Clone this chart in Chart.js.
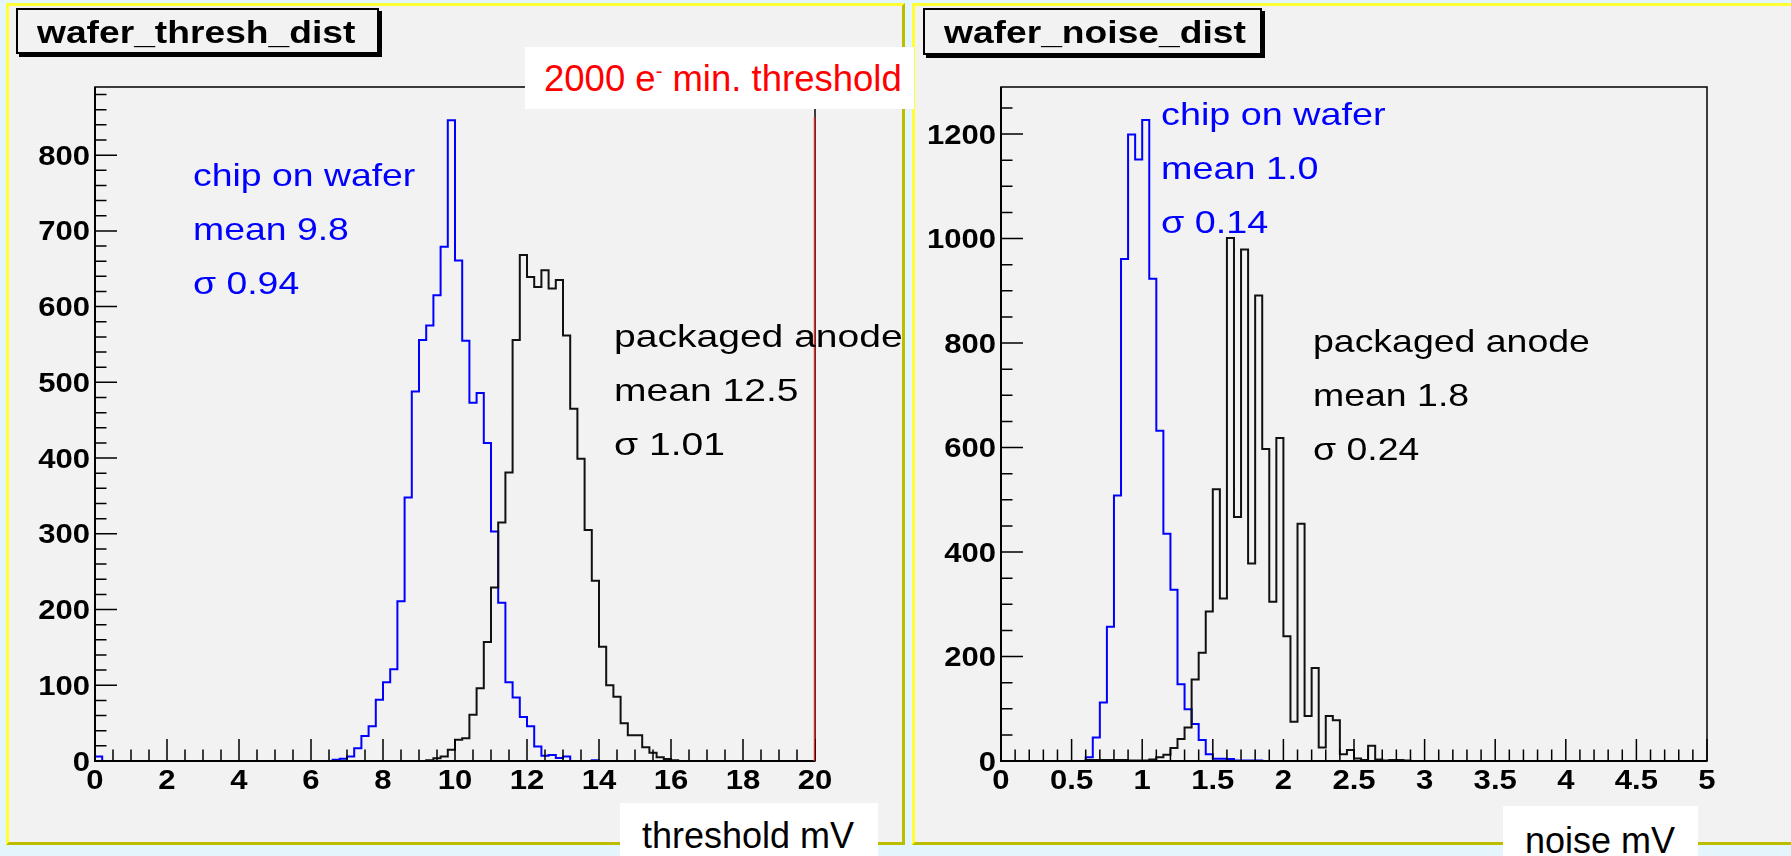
<!DOCTYPE html>
<html lang="en">
<head>
    <meta charset="UTF-8">
    <title>wafer_thresh_dist / wafer_noise_dist</title>
    <script src="https://cdn.jsdelivr.net/npm/chart.js"></script>
    <style>
        body { margin: 0; width: 1791px; height: 856px; overflow: hidden; position: relative;
               background: #e5f5fc; font-family: "Liberation Sans", Arial, sans-serif; }
        .pad { position: absolute; box-sizing: border-box; background: #f2f2f2;
               border: 3px solid #ffff33; border-right-color: #bdbd00; border-bottom-color: #bdbd00; }
        .plot { position: absolute; }
        .pave { position: absolute; box-sizing: border-box; border: 2px solid #000;
                background: #f2f2f2; box-shadow: 3px 3px 0 #000; }
        .ttl { position: absolute; font: bold 31px/1 "Liberation Sans", Arial, sans-serif;
               transform: scaleX(1.2); transform-origin: 0 0; white-space: nowrap; }
        .note { position: absolute; font-size: 32px; line-height: 54px; white-space: nowrap;
                transform: scaleX(1.18); transform-origin: 0 0; }
        .box { position: absolute; background: #fff; }
        .lbl { position: absolute; font-size: 36px; line-height: 1; white-space: nowrap; }
        .sup { font-size: 20px; position: relative; top: -13px; }
    </style>
</head>
<body>
    <div class="pad" style="left:6px; top:3px; width:899px; height:842px;"></div>
    <div class="pad" style="left:912px; top:3px; width:890px; height:842px;"></div>

    <div class="plot" style="left:0; top:0; width:903px; height:845px;"><canvas id="thresh"></canvas></div>
    <div class="plot" style="left:903px; top:0; width:888px; height:845px;"><canvas id="noise"></canvas></div>

    <!-- histogram titles -->
    <div class="pave" style="left:16px; top:8px; width:363px; height:46px;"></div>
    <div class="ttl" style="left:37px; top:17px;">wafer_thresh_dist</div>
    <div class="pave" style="left:923px; top:8px; width:339px; height:47px;"></div>
    <div class="ttl" style="left:944px; top:17px;">wafer_noise_dist</div>

    <!-- annotations -->
    <div class="note" style="left:193px; top:148px; color:#0000ff; transform:scaleX(1.168);">chip on wafer<br>mean 9.8<br>σ 0.94</div>
    <div class="note" style="left:614px; top:309px; color:#000; transform:scaleX(1.22);">packaged anode<br>mean 12.5<br>σ 1.01</div>
    <div class="note" style="left:1161px; top:87px; color:#0000ff;">chip on wafer<br>mean 1.0<br>σ 0.14</div>
    <div class="note" style="left:1313px; top:314px; color:#000; transform:scaleX(1.17);">packaged anode<br>mean 1.8<br>σ 0.24</div>

    <div class="box" style="left:525px; top:47px; width:389px; height:62px;"></div>
    <div class="lbl" style="left:544px; top:61px; color:#ff0000; font-size:36.5px;">2000 e<span class="sup">-</span> min. threshold</div>

    <div class="box" style="left:620px; top:803px; width:258px; height:53px;"></div>
    <div class="lbl" style="left:642px; top:818px;">threshold mV</div>
    <div class="box" style="left:1503px; top:806px; width:195px; height:50px;"></div>
    <div class="lbl" style="left:1525px; top:823px;">noise mV</div>

    <script>
        // bin widths (mV), bins start at 0
        const threshBinWidth = 0.2;
        const noiseBinWidth = 0.05;

        // labelled tick values
        const threshXTicks = [0, 2, 4, 6, 8, 10, 12, 14, 16, 18, 20];
        const threshYTicks = [0, 100, 200, 300, 400, 500, 600, 700, 800];
        const noiseXTicks = [0, 0.5, 1, 1.5, 2, 2.5, 3, 3.5, 4, 4.5, 5];
        const noiseYTicks = [0, 200, 400, 600, 800, 1000, 1200];

        // threshold distribution, 100 bins 0..20 mV
        const threshChip = [
            6, 0, 0, 0, 0, 0, 0, 0, 0, 0,
            0, 0, 0, 0, 0, 0, 0, 0, 0, 0,
            0, 0, 0, 0, 0, 0, 0, 0, 0, 0,
            0, 0, 0, 1.5, 3, 6, 17, 33, 46, 81,
            104, 121, 211, 348, 488, 556, 575, 615, 679, 846,
            661, 555, 473, 486, 420, 303, 209, 104, 84, 58,
            46, 19, 7, 8, 4, 6, 0, 0, 0, 1,
            0, 0, 0, 0, 0, 0, 0, 0, 0, 0,
            0, 0, 0, 0, 0, 0, 0, 0, 0, 0,
            0, 0, 0, 0, 0, 0, 0, 0, 0, 0
        ];
        const threshAnode = [
            0, 0, 0, 0, 0, 0, 0, 0, 0, 0,
            0, 0, 0, 0, 0, 0, 0, 0, 0, 0,
            0, 0, 0, 0, 0, 0, 0, 0, 0, 0,
            0, 0, 0, 0, 0, 0, 0, 0, 0, 0,
            0, 0, 0, 0, 0, 0, 1, 3.5, 6, 15,
            28, 30, 61, 96, 157, 229, 315, 381, 556, 668,
            639, 626, 648, 624, 635, 562, 465, 399, 305, 238,
            151, 100, 85, 50, 34, 34, 18, 11, 5, 2.5,
            1, 0, 0, 0, 0, 0, 0, 0, 0, 0,
            0, 0, 0, 0, 0, 0, 0, 0, 0, 0
        ];

        // noise distribution, 100 bins 0..5 mV
        const noiseChip = [
            0, 0, 0, 0, 0, 0, 0, 0, 0, 0,
            0, 0, 7, 45, 112, 257, 508, 961, 1199, 1151,
            1227, 923, 632, 435, 328, 147, 99, 71, 40, 13,
            4.5, 4.5, 4, 1, 1, 1, 1, 0, 0, 0,
            0, 0, 0, 0, 0, 0, 0, 0, 0, 0,
            0, 0, 0, 0, 0, 0, 0, 0, 0, 0,
            0, 0, 0, 0, 0, 0, 0, 0, 0, 0,
            0, 0, 0, 0, 0, 0, 0, 0, 0, 0,
            0, 0, 0, 0, 0, 0, 0, 0, 0, 0,
            0, 0, 0, 0, 0, 0, 0, 0, 0, 0
        ];
        const noiseAnode = [
            0, 0, 0, 0, 0, 0, 0, 0, 0, 0,
            0, 0, 2, 2, 2, 2, 2, 2, 1, 1,
            1, 3, 7, 12, 25, 42, 64, 156, 207, 286,
            520, 311, 1001, 467, 979, 378, 891, 597, 305, 618,
            239, 75, 454, 86, 178, 26, 86, 78, 13, 21,
            5, 2, 29, 3, 1, 2, 2, 1, 0, 0,
            0, 0, 0, 0, 0, 0, 0, 0, 0, 0,
            0, 0, 0, 0, 0, 0, 0, 0, 0, 0,
            0, 0, 0, 0, 0, 0, 0, 0, 0, 0,
            0, 0, 0, 0, 0, 0, 0, 0, 0, 0
        ];

        // 2000 e- minimum threshold marker
        const minThreshold = 20;
        const minThresholdTop = 850;

        // step outline points: lower bin edge + count
        function histPoints(counts, width) {
            const pts = [{ x: 0, y: 0 }];
            counts.forEach((c, i) => pts.push({ x: i * width, y: c }));
            const end = counts.length * width;
            pts.push({ x: end, y: counts[counts.length - 1] });
            pts.push({ x: end, y: 0 });
            return pts;
        }

        function histDataset(counts, width, color) {
            return {
                data: histPoints(counts, width),
                borderColor: color,
                borderWidth: 2,
                stepped: 'before',
                pointRadius: 0,
                fill: false
            };
        }

        function fmt(v) {
            return String(Math.round(v * 100) / 100);
        }

        function stretchedText(ctx, str, x, y, align, s) {
            ctx.save();
            ctx.translate(x, y);
            ctx.scale(s, 1);
            ctx.textAlign = align;
            ctx.fillText(str, 0, 0);
            ctx.restore();
        }

        // ROOT style frame: ticks inside, bold labels
        function drawFrame(chart) {
            chart.$frameDone = true;
            const o = chart.options.plugins.rootFrame;
            const ctx = chart.ctx;
            const a = chart.chartArea;
            const xs = chart.scales.x, ys = chart.scales.y;
            ctx.save();
            ctx.strokeStyle = '#000';
            ctx.lineWidth = 1.5;
            ctx.strokeRect(a.left, a.top, a.right - a.left, a.bottom - a.top);
            ctx.lineWidth = 2;
            ctx.beginPath();
            ctx.moveTo(a.left, a.top);
            ctx.lineTo(a.left, a.bottom);
            ctx.lineTo(a.right, a.bottom);
            ctx.stroke();

            ctx.lineWidth = 1.5;
            ctx.beginPath();
            for (let k = 0; xs.min + k * o.xMinor <= xs.max + 1e-9; k++) {
                const px = xs.getPixelForValue(xs.min + k * o.xMinor);
                const len = k % o.xPerMajor === 0 ? 22 : 11.5;
                ctx.moveTo(px, a.bottom);
                ctx.lineTo(px, a.bottom - len);
            }
            for (let k = 0; ys.min + k * o.yMinor <= ys.max + 1e-9; k++) {
                const py = ys.getPixelForValue(ys.min + k * o.yMinor);
                const len = k % o.yPerMajor === 0 ? 22 : 11.5;
                ctx.moveTo(a.left, py);
                ctx.lineTo(a.left + len, py);
            }
            ctx.stroke();

            ctx.fillStyle = '#000';
            ctx.font = 'bold 27px "Liberation Sans", Arial, sans-serif';
            xs.ticks.forEach(t => stretchedText(ctx, fmt(t.value), xs.getPixelForValue(t.value), a.bottom + 28, 'center', o.stretch));
            ys.ticks.forEach(t => stretchedText(ctx, fmt(t.value), a.left - 5, ys.getPixelForValue(t.value) + 9.5, 'right', o.stretch));
            ctx.restore();
        }

        const rootFrame = {
            id: 'rootFrame',
            beforeDraw(chart) { chart.$frameDone = false; },
            beforeDatasetDraw(chart, args) {
                if (chart.data.datasets[args.index].marker && !chart.$frameDone) drawFrame(chart);
            },
            afterDatasetsDraw(chart) {
                if (!chart.$frameDone) drawFrame(chart);
            }
        };

        function makeChart(id, datasets, xr, xTicks, yr, yTicks, yWidth, padRight, frame) {
            return new Chart(document.getElementById(id), {
                type: 'line',
                data: { datasets: datasets },
                plugins: [rootFrame],
                options: {
                    responsive: true,
                    maintainAspectRatio: false,
                    animation: false,
                    layout: { padding: { top: 87, right: padRight, bottom: 0, left: 0 } },
                    plugins: { legend: { display: false }, tooltip: { enabled: false }, rootFrame: frame },
                    scales: {
                        x: {
                            type: 'linear', min: xr[0], max: xr[1],
                            ticks: { display: false },
                            grid: { display: false }, border: { display: false },
                            afterBuildTicks: s => { s.ticks = xTicks.map(v => ({ value: v })); },
                            afterFit: s => { s.height = 84; }
                        },
                        y: {
                            type: 'linear', min: yr[0], max: yr[1],
                            ticks: { display: false },
                            grid: { display: false }, border: { display: false },
                            afterBuildTicks: s => { s.ticks = yTicks.map(v => ({ value: v })); },
                            afterFit: s => { s.width = yWidth; }
                        }
                    }
                }
            });
        }

        makeChart('thresh', [
            {
                marker: true,
                data: [{ x: minThreshold, y: 0 }, { x: minThreshold, y: minThresholdTop }],
                borderColor: '#ff2020', borderWidth: 2.5, pointRadius: 0, fill: false
            },
            histDataset(threshAnode, threshBinWidth, '#111111'),
            histDataset(threshChip, threshBinWidth, '#0000ff')
        ], [0, 20], threshXTicks, [0, 890], threshYTicks, 95, 88,
           { xMinor: 0.5, xPerMajor: 4, yMinor: 20, yPerMajor: 5, stretch: 1.15 });

        makeChart('noise', [
            histDataset(noiseAnode, noiseBinWidth, '#111111'),
            histDataset(noiseChip, noiseBinWidth, '#0000ff')
        ], [0, 5], noiseXTicks, [0, 1290], noiseYTicks, 98, 84,
           { xMinor: 0.1, xPerMajor: 5, yMinor: 50, yPerMajor: 4, stretch: 1.15 });
    </script>
</body>
</html>
